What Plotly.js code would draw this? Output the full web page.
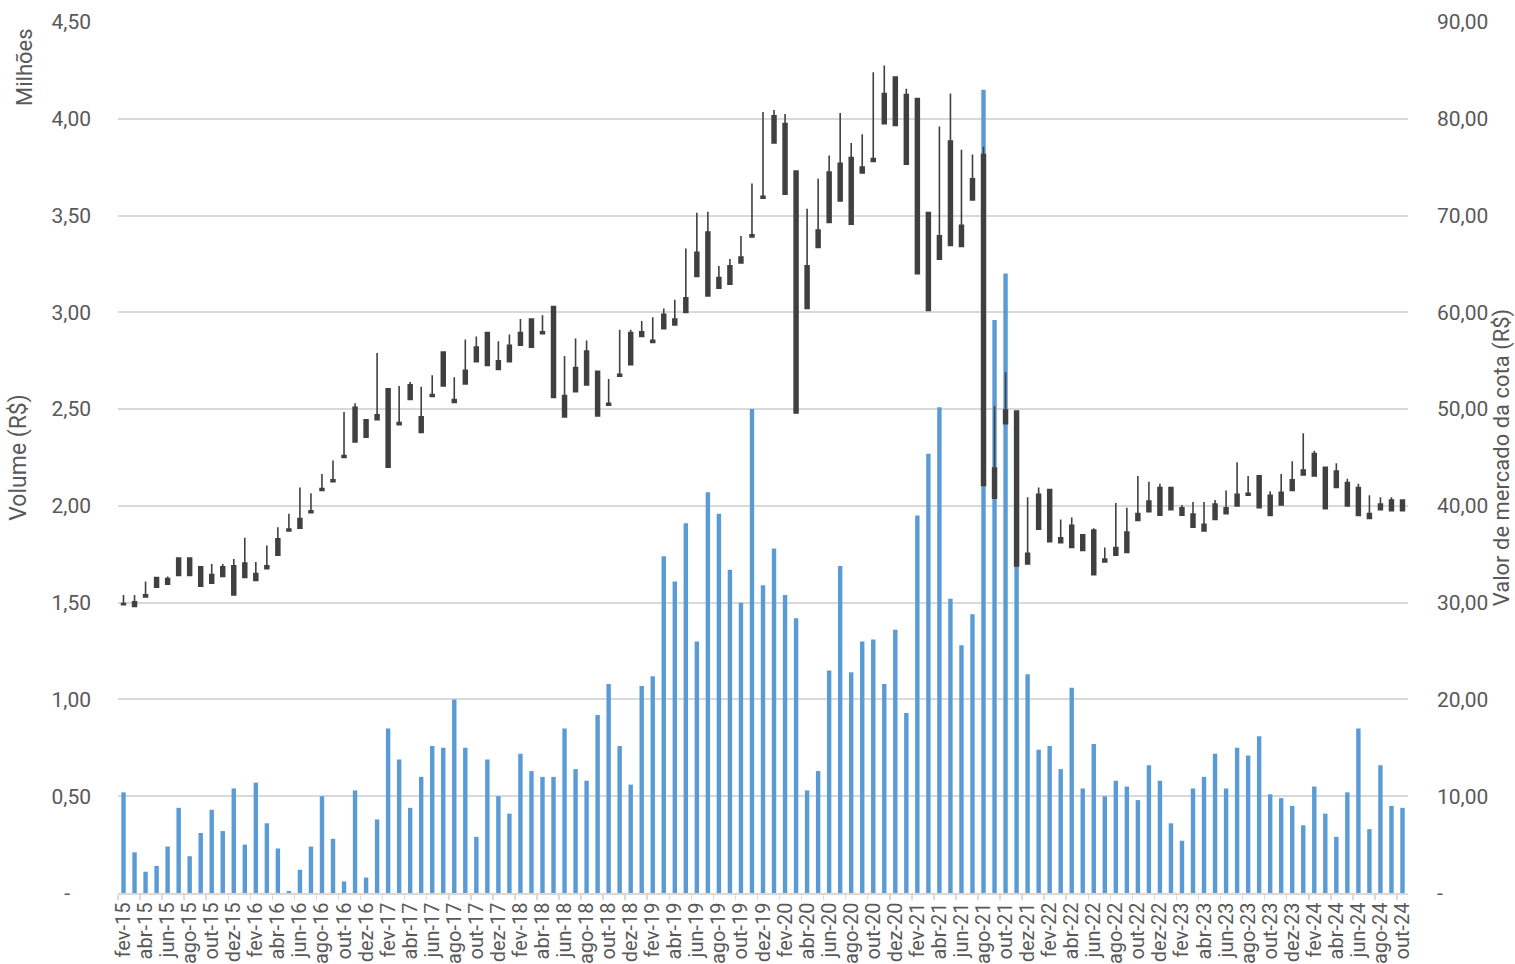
<!DOCTYPE html>
<html>
<head>
<meta charset="utf-8">
<script src="https://cdn.plot.ly/plotly-3.0.1.min.js"></script>
<style>
html,body{margin:0;padding:0;background:#fff;}
#chart{width:1515px;height:964px;}
</style>
</head>
<body>
<div id="chart"></div>
<script>
const meses = [
"fev-15","mar-15","abr-15","mai-15","jun-15","jul-15","ago-15","set-15","out-15","nov-15","dez-15",
"jan-16","fev-16","mar-16","abr-16","mai-16","jun-16","jul-16","ago-16","set-16","out-16","nov-16","dez-16",
"jan-17","fev-17","mar-17","abr-17","mai-17","jun-17","jul-17","ago-17","set-17","out-17","nov-17","dez-17",
"jan-18","fev-18","mar-18","abr-18","mai-18","jun-18","jul-18","ago-18","set-18","out-18","nov-18","dez-18",
"jan-19","fev-19","mar-19","abr-19","mai-19","jun-19","jul-19","ago-19","set-19","out-19","nov-19","dez-19",
"jan-20","fev-20","mar-20","abr-20","mai-20","jun-20","jul-20","ago-20","set-20","out-20","nov-20","dez-20",
"jan-21","fev-21","mar-21","abr-21","mai-21","jun-21","jul-21","ago-21","set-21","out-21","nov-21","dez-21",
"jan-22","fev-22","mar-22","abr-22","mai-22","jun-22","jul-22","ago-22","set-22","out-22","nov-22","dez-22",
"jan-23","fev-23","mar-23","abr-23","mai-23","jun-23","jul-23","ago-23","set-23","out-23","nov-23","dez-23",
"jan-24","fev-24","mar-24","abr-24","mai-24","jun-24","jul-24","ago-24","set-24","out-24"
];

// Volume (R$ milhões)
const volume = [
0.52,0.21,0.11,0.14,0.24,0.44,0.19,0.31,0.43,0.32,0.54,
0.25,0.57,0.36,0.23,0.01,0.12,0.24,0.50,0.28,0.06,0.53,0.08,
0.38,0.85,0.69,0.44,0.60,0.76,0.75,1.00,0.75,0.29,0.69,0.50,
0.41,0.72,0.63,0.60,0.60,0.85,0.64,0.58,0.92,1.08,0.76,0.56,
1.07,1.12,1.74,1.61,1.91,1.30,2.07,1.96,1.67,1.50,2.50,1.59,
1.78,1.54,1.42,0.53,0.63,1.15,1.69,1.14,1.30,1.31,1.08,1.36,
0.93,1.95,2.27,2.51,1.52,1.28,1.44,4.15,2.96,3.20,2.00,1.13,
0.74,0.76,0.64,1.06,0.54,0.77,0.50,0.58,0.55,0.48,0.66,0.58,
0.36,0.27,0.54,0.60,0.72,0.54,0.75,0.71,0.81,0.51,0.49,0.45,
0.35,0.55,0.41,0.29,0.52,0.85,0.33,0.66,0.45,0.44
];

// Valor de mercado da cota (R$)
const abertura = [
29.8,29.6,30.6,31.6,32.5,32.8,34.6,33.7,32.0,32.7,33.8,
32.6,33.0,33.5,34.9,37.4,37.7,39.3,41.6,42.5,45.0,46.6,48.9,
48.9,52.1,48.4,51.0,49.2,51.3,52.4,51.0,52.6,54.9,57.9,54.1,
54.9,56.6,56.4,57.8,60.6,51.4,51.8,56.0,53.9,50.4,53.4,54.6,
57.5,56.9,58.3,58.7,60.0,63.7,68.3,63.6,62.9,65.1,67.8,71.8,
77.5,79.5,74.6,60.4,66.7,69.3,71.5,76.0,74.4,75.6,79.5,84.3,
82.5,82.1,70.3,65.5,77.7,69.0,71.6,76.3,43.9,48.5,49.8,34.0,
41.2,41.7,36.7,38.0,37.0,37.5,34.2,34.9,35.2,38.5,39.4,39.05,
41.9,39.8,39.15,37.4,38.6,39.2,40.0,41.1,43.1,41.1,40.1,41.6,
43.2,43.1,44.0,43.6,42.4,41.9,38.7,39.6,40.6,40.6
];
const maxima = [
30.8,30.8,32.2,32.6,32.7,34.6,34.6,33.7,34.0,34.0,34.5,
36.7,34.2,35.9,37.8,39.2,41.9,41.3,43.3,44.7,49.7,50.6,48.9,
55.8,52.1,52.4,52.8,52.3,53.5,55.9,53.3,57.2,57.5,57.9,57.0,
57.7,59.3,59.3,59.7,60.6,55.5,57.3,57.1,53.9,53.1,58.2,58.2,
59.1,59.5,60.4,61.3,66.6,70.3,70.4,64.8,65.5,67.9,73.3,80.7,
80.9,80.5,74.6,70.7,73.8,76.2,80.6,77.5,78.4,84.8,85.5,84.4,
83.1,82.1,70.3,79.2,82.6,76.8,76.3,77.1,50.3,53.8,49.8,40.9,
41.9,41.7,38.6,38.8,37.0,37.7,35.7,40.3,39.8,43.1,42.5,42.3,
41.9,40.1,40.4,40.4,40.6,41.6,44.5,43.1,43.1,41.5,43.3,44.6,
47.5,45.7,44.0,44.4,42.8,42.3,41.1,40.9,40.9,40.6
];
const minima = [
29.8,29.6,30.6,31.6,31.9,32.8,32.8,31.7,32.0,32.7,30.8,
32.6,32.3,33.5,34.9,37.4,37.7,39.3,41.6,42.5,45.0,46.6,47.1,
48.9,44.0,48.4,51.0,47.6,51.3,52.4,50.7,52.6,54.9,54.5,54.1,
54.9,56.6,56.4,57.8,51.2,49.2,51.8,52.5,49.3,50.4,53.4,54.6,
57.5,56.9,58.3,58.7,60.0,63.7,61.7,62.5,62.9,65.1,67.8,71.8,
77.5,72.2,49.6,60.4,66.7,69.3,71.5,69.1,74.4,75.6,79.5,79.3,
75.3,64.0,60.2,65.5,66.9,66.8,71.6,42.1,40.8,48.5,33.8,34.0,
37.6,36.3,36.2,35.7,35.4,32.9,34.2,34.9,35.2,38.5,39.4,39.05,
39.6,39.05,37.8,37.4,38.6,39.2,40.0,41.1,39.8,39.0,40.1,41.6,
43.2,43.1,39.7,41.9,40.0,39.0,38.7,39.6,39.5,39.5
];
const fechamento = [
29.9,30.1,30.8,32.6,31.9,34.6,32.8,31.7,32.9,33.7,30.8,
34.1,32.3,33.8,36.6,37.6,38.7,39.5,41.8,42.7,45.2,50.2,47.1,
49.4,44.0,48.6,52.5,47.6,51.5,55.9,50.7,54.0,56.4,54.5,55.0,
56.6,57.9,59.3,58.0,51.2,49.2,54.3,52.5,49.3,50.6,53.6,57.9,
58.0,57.1,59.8,59.3,61.5,66.2,61.7,62.5,64.8,65.7,68.0,72.0,
80.3,72.2,49.6,64.8,68.5,74.5,75.4,69.1,75.0,75.9,82.6,79.3,
75.3,64.0,60.2,67.9,66.9,66.8,73.8,42.1,40.8,49.9,33.8,35.1,
37.6,36.3,36.2,35.7,35.4,32.9,34.5,35.7,37.3,39.2,40.5,41.9,
39.6,39.05,37.8,38.1,40.2,39.8,41.2,41.3,39.8,39.0,41.4,42.7,
43.7,45.4,39.7,41.9,40.0,39.0,39.2,40.2,39.5,39.5
];

const yLeftVals = [0,0.5,1,1.5,2,2.5,3,3.5,4,4.5];
const yLeftText = ["-\u00a0\u00a0\u00a0\u00a0","0,50","1,00","1,50","2,00","2,50","3,00","3,50","4,00","4,50"];
const yRightVals = [0,10,20,30,40,50,60,70,80,90];
const yRightText = ["-","10,00","20,00","30,00","40,00","50,00","60,00","70,00","80,00","90,00"];

const FONT = "Roboto, 'Noto Sans', sans-serif";
const TXT = "#595959";
const GRID = "#d9d9d9";
const ESCURO = "#404040";

const traces = [
  {
    type: "bar",
    name: "Volume",
    x: meses,
    y: volume,
    yaxis: "y",
    marker: {color: "#5b9bd5"},
    hoverinfo: "x+y"
  },
  {
    type: "candlestick",
    name: "Cota",
    x: meses,
    open: abertura,
    high: maxima,
    low: minima,
    close: fechamento,
    yaxis: "y2",
    whiskerwidth: 0,
    increasing: {line: {color: ESCURO, width: 1.6}, fillcolor: ESCURO},
    decreasing: {line: {color: ESCURO, width: 1.6}, fillcolor: ESCURO}
  }
];

const layout = {
  width: 1515,
  height: 964,
  margin: {l: 118, r: 107, t: 22, b: 71},
  paper_bgcolor: "#ffffff",
  plot_bgcolor: "#ffffff",
  showlegend: false,
  bargap: 0.6,
  boxgap: 0.5,
  font: {family: FONT, color: TXT, size: 21},
  xaxis: {
    type: "category",
    categoryorder: "array",
    categoryarray: meses,
    range: [-0.5, meses.length - 0.5],
    tickmode: "linear",
    tick0: 0,
    dtick: 2,
    tickangle: -90,
    ticks: "outside",
    tickson: "boundaries",
    ticklen: 5,
    tickcolor: GRID,
    tickwidth: 1.5,
    showgrid: false,
    showline: true,
    linecolor: GRID,
    linewidth: 1.5,
    tickfont: {family: FONT, size: 20, color: TXT},
    rangeslider: {visible: false},
    automargin: false,
    fixedrange: true
  },
  yaxis: {
    range: [0, 4.5],
    tickmode: "array",
    tickvals: yLeftVals,
    ticktext: yLeftText,
    showgrid: true,
    gridcolor: GRID,
    gridwidth: 2,
    zeroline: false,
    showline: false,
    ticks: "",
    ticklabelstandoff: 26,
    tickfont: {family: FONT, size: 21, color: TXT},
    title: {text: "Volume (R$)", font: {family: FONT, size: 23, color: TXT}, standoff: 18},
    automargin: false,
    fixedrange: true
  },
  yaxis2: {
    overlaying: "y",
    side: "right",
    range: [0, 90],
    tickmode: "array",
    tickvals: yRightVals,
    ticktext: yRightText,
    showgrid: false,
    zeroline: false,
    showline: false,
    ticks: "",
    ticklabelstandoff: 28,
    tickfont: {family: FONT, size: 21, color: TXT},
    title: {text: "Valor de mercado da cota (R$)", font: {family: FONT, size: 22, color: TXT}, standoff: 6},
    automargin: false,
    fixedrange: true
  },
  annotations: [
    {
      text: "Milhões",
      xref: "paper", yref: "paper",
      x: (24 - 118) / 1290, y: (893 - 67) / 871,
      xanchor: "center", yanchor: "middle",
      textangle: -90,
      showarrow: false,
      font: {family: FONT, size: 22, color: TXT}
    }
  ]
};

Plotly.newPlot("chart", traces, layout, {displayModeBar: false, staticPlot: true});
</script>
</body>
</html>
